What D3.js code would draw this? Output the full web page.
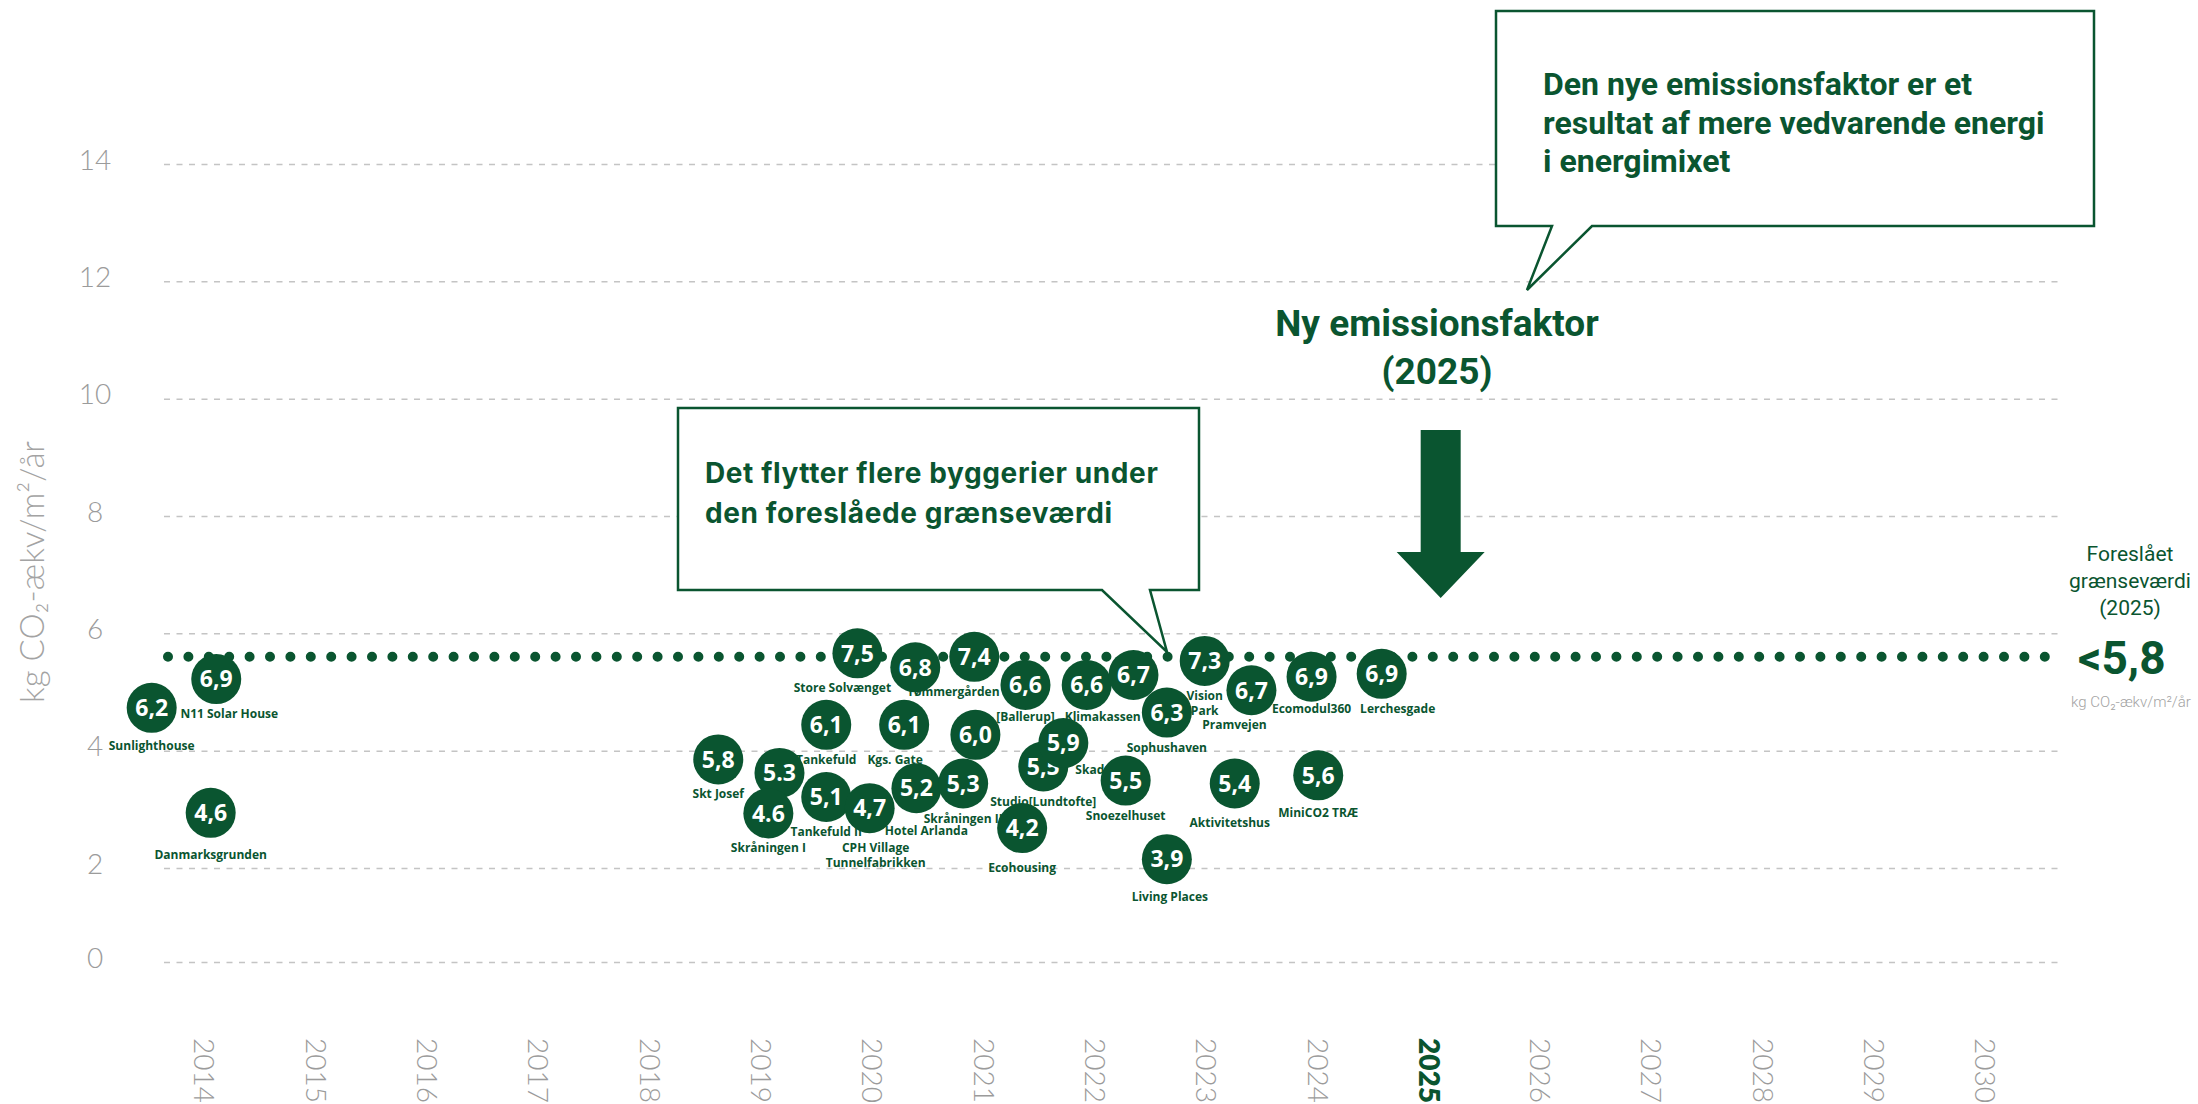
<!DOCTYPE html>
<html>
<head>
<meta charset="utf-8">
<script src="https://cdn.jsdelivr.net/npm/d3@7"></script>
<style>
  body { margin: 0; background: #fff; }
  svg { display: block; }
</style>
</head>
<body>
<div id="chart"></div>
<script>
// akser
const yearTicks = [2014, 2015, 2016, 2017, 2018, 2019, 2020, 2021, 2022, 2023, 2024, 2025, 2026, 2027, 2028, 2029, 2030];
const valueTicks = [0, 2, 4, 6, 8, 10, 12, 14];

// byggerier (tegnes i denne rækkefølge)
const projects = ["Sunlighthouse", "N11 Solar House", "Danmarksgrunden", "Skt Josef", "", "Skråningen I",
  "Tankefuld", "Tankefuld II", "Store Solvænget", "CPH Village\nTunnelfabrikken", "Kgs. Gate", "",
  "Hotel Arlanda", "Tømmergården", "", "Skråningen II", "Ecohousing", "[Ballerup]", "Studio[Lundtofte]",
  "Skade", "Klimakassen", "", "Sophushaven", "Snoezelhuset", "Living Places", "Vision\nPark",
  "Pramvejen", "Aktivitetshus", "Ecomodul360", "MiniCO2 TRÆ", "Lerchesgade"];
const oldValues = ["6,2", "6,9", "4,6", "5,8", "5.3", "4.6",
  "6,1", "5,1", "7,5", "4,7", "6,1", "6,8",
  "5,2", "7,4", "6,0", "5,3", "4,2", "6,6", "5,5",
  "5,9", "6,6", "6,7", "6,3", "5,5", "3,9", "7,3",
  "6,7", "5,4", "6,9", "5,6", "6,9"];
const projectYears = [2013.53, 2014.11, 2014.06, 2018.62, 2019.17, 2019.07,
  2019.59, 2019.59, 2019.87, 2019.98, 2020.29, 2020.39,
  2020.40, 2020.92, 2020.93, 2020.82, 2021.35, 2021.38, 2021.54,
  2021.72, 2021.93, 2022.35, 2022.65, 2022.28, 2022.65, 2022.99,
  2023.41, 2023.26, 2023.95, 2024.01, 2024.58];
const newValues = [4.73, 5.22, 2.94, 3.85, 3.62, 2.93,
  4.44, 3.21, 5.66, 3.02, 4.44, 5.42,
  3.36, 5.60, 4.27, 3.44, 2.68, 5.12, 3.73,
  4.13, 5.12, 5.29, 4.65, 3.49, 2.15, 5.53,
  5.03, 3.44, 5.26, 3.58, 5.31];

const limitLine = 5.6;
const limitLabel = "<5,8";
const newFactorYear = 2025;

const green = "#0a5530";
const grey = "#9b9b9b";
const W = 2198, H = 1104;
const gridLeft = 164, gridRight = 2061;

// små skub af navne så de ligger som i originalen
const labelNudge = {
    "Sunlighthouse": [0, 3], "N11 Solar House": [13, 0], "Danmarksgrunden": [0, 7],
    "Store Solvænget": [-15, 0], "Tømmergården": [-21, 0], "CPH Village\nTunnelfabrikken": [6, 5],
    "Kgs. Gate": [-9, 0], "Hotel Arlanda": [10, 8], "Klimakassen": [16, -3], "[Ballerup]": [0, -3],
    "Skade": [30, -8], "Pramvejen": [-17, 0], "Lerchesgade": [16, 0], "Ecomodul360": [0, -3],
    "Ecohousing": [0, 5], "Living Places": [3, 3], "Aktivitetshus": [-5, 4], "MiniCO2 TRÆ": [0, 3]
};

const svg = d3.select("#chart").append("svg")
    .attr("width", W)
    .attr("height", H)
    .style("background", "#fff");

const x = d3.scaleLinear().domain([2014, 2030]).range([204, 1985]);
const y = d3.scaleLinear().domain([0, 2, 14]).range([962, 868, 164]);

// y-akse og gitterlinjer
const yAxis = svg.append("g")
    .attr("transform", `translate(${gridLeft},0)`)
    .call(d3.axisLeft(y).tickValues(valueTicks).tickSize(-(gridRight - gridLeft)));
yAxis.select(".domain").remove();
yAxis.selectAll(".tick line")
    .attr("stroke", "#c4c4c4")
    .attr("stroke-width", 1.5)
    .attr("stroke-dasharray", "6 6.5");
yAxis.selectAll(".tick text")
    .attr("x", -69)
    .attr("dy", "0.18em")
    .style("text-anchor", "middle")
    .style("font-family", "Lato, 'Open Sans', sans-serif")
    .style("font-weight", 300)
    .style("font-size", "28px")
    .attr("fill", grey);

svg.append("text")
    .attr("transform", "translate(31,572) rotate(-90)")
    .attr("text-anchor", "middle")
    .attr("dominant-baseline", "central")
    .style("font-family", "Lato, 'Open Sans', sans-serif")
    .style("font-weight", 300)
    .style("font-size", "33px")
    .attr("fill", "#a3a3a3")
    .text("kg CO₂-ækv/m²/år");

// x-akse
const xAxis = svg.append("g")
    .attr("transform", "translate(0,1038)")
    .call(d3.axisBottom(x).tickValues(yearTicks).tickFormat(d3.format("d")).tickSize(0));
xAxis.select(".domain").remove();
xAxis.selectAll(".tick text")
    .attr("x", 0)
    .attr("y", 0)
    .attr("dy", "0.36em")
    .attr("transform", "rotate(90)")
    .style("text-anchor", "start")
    .style("font-family", "Lato, 'Open Sans', sans-serif")
    .style("font-weight", d => d === newFactorYear ? 800 : 300)
    .style("font-size", "28px")
    .attr("fill", d => d === newFactorYear ? green : grey);

// grænseværdi linje
svg.append("line")
    .attr("x1", gridLeft + 4)
    .attr("x2", gridRight)
    .attr("y1", y(limitLine))
    .attr("y2", y(limitLine))
    .attr("stroke", green)
    .attr("stroke-width", 10)
    .attr("stroke-linecap", "round")
    .attr("stroke-dasharray", "0 20.4");

// navne under boblerne
const labels = svg.append("g")
    .style("font-family", "'Open Sans', sans-serif")
    .style("font-weight", 700)
    .style("font-size", "12px")
    .attr("fill", green)
    .attr("text-anchor", "middle");

projects.forEach((navn, i) => {
    if (!navn) return;
    const skub = labelNudge[navn] || [0, 0];
    navn.split("\n").forEach((linje, j) => {
        labels.append("text")
            .attr("x", x(projectYears[i]) + skub[0])
            .attr("y", y(newValues[i]) + 39 + skub[1] + j * 15)
            .text(linje);
    });
});

// bobler
const bobler = svg.append("g").selectAll("g")
    .data(projects.map((p, i) => ({navn: p, vaerdi: oldValues[i], aar: projectYears[i], ny: newValues[i]})))
    .join("g")
    .attr("transform", d => `translate(${x(d.aar)},${y(d.ny)})`);

bobler.append("circle")
    .attr("r", 25)
    .attr("fill", green);

bobler.append("text")
    .attr("text-anchor", "middle")
    .attr("dy", "0.36em")
    .style("font-family", "'Open Sans', sans-serif")
    .style("font-weight", 700)
    .style("font-size", "23px")
    .attr("fill", "#fff")
    .text(d => d.vaerdi);

// talebobler
function taleboble(punkter) {
    svg.append("path")
        .attr("d", d3.line()(punkter) + "Z")
        .attr("fill", "#fff")
        .attr("stroke", green)
        .attr("stroke-width", 2.5);
}
taleboble([[678, 408], [1199, 408], [1199, 590], [1150, 590], [1167, 652], [1102, 590], [678, 590]]);
taleboble([[1496, 11], [2094, 11], [2094, 226], [1592, 226], [1527, 290], [1552, 226], [1496, 226]]);

function tekstlinjer(linjer, xPos, yPos, dy, size, font, anchor, spacing) {
    const t = svg.append("text")
        .attr("fill", green)
        .attr("text-anchor", anchor)
        .style("font-family", font)
        .style("font-weight", 700)
        .style("font-size", size + "px")
        .style("letter-spacing", (spacing || 0) + "px");
    linjer.forEach((l, i) => {
        t.append("tspan").attr("x", xPos).attr("y", yPos + i * dy).text(l);
    });
}
tekstlinjer(["Det flytter flere byggerier under", "den foreslåede grænseværdi"], 705, 483, 40, 28, "Inter, sans-serif", "start", 0.6);
tekstlinjer(["Den nye emissionsfaktor er et", "resultat af mere vedvarende energi", "i energimixet"], 1543, 95, 38.5, 32, "Roboto, sans-serif", "start");
tekstlinjer(["Ny emissionsfaktor", "(2025)"], 1437, 336, 48, 37, "Roboto, sans-serif", "middle");

// pil ned
const pilX = x(newFactorYear + 0.11);
svg.append("path")
    .attr("d", d3.line()([[pilX - 20, 430], [pilX + 20, 430], [pilX + 20, 552], [pilX + 44, 552],
        [pilX, 598], [pilX - 44, 552], [pilX - 20, 552]]) + "Z")
    .attr("fill", green);

// grænseværdi tekst til højre
const hoejre = svg.append("text")
    .attr("fill", green)
    .attr("text-anchor", "middle")
    .style("font-family", "Roboto, sans-serif")
    .style("font-size", "21px");
["Foreslået", "grænseværdi", "(2025)"].forEach((l, i) => {
    hoejre.append("tspan").attr("x", 2130).attr("y", 561 + i * 27).text(l);
});

svg.append("text")
    .attr("x", 2078)
    .attr("y", 674)
    .attr("fill", green)
    .style("font-family", "Roboto, sans-serif")
    .style("font-weight", 700)
    .style("font-size", "46px")
    .text(limitLabel);

svg.append("text")
    .attr("x", 2131)
    .attr("y", 707)
    .attr("text-anchor", "middle")
    .attr("fill", "#a3a3a3")
    .style("font-family", "Roboto, sans-serif")
    .style("font-weight", 300)
    .style("font-size", "15px")
    .text("kg CO₂-ækv/m²/år");
</script>
</body>
</html>
